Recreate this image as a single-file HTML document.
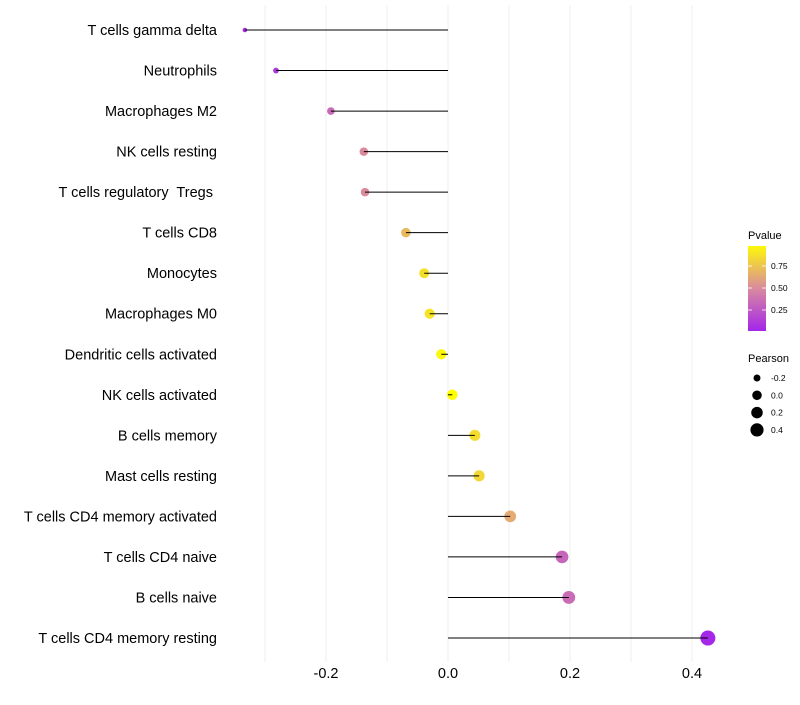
<!DOCTYPE html>
<html><head><meta charset="utf-8"><style>
body{margin:0;background:#fff;font-family:"Liberation Sans",sans-serif}
svg text{font-family:"Liberation Sans",sans-serif}
</style></head><body>
<svg id="chart" width="800" height="700" xmlns="http://www.w3.org/2000/svg">
<g id="grid"></g>
<g id="ylabels"></g>
<g id="marks"></g>
<g id="xlabels"></g>
<g id="legend"></g>
</svg>
<script>
const categories=["T cells gamma delta","Neutrophils","Macrophages M2","NK cells resting","T cells regulatory  Tregs ","T cells CD8","Monocytes","Macrophages M0","Dendritic cells activated","NK cells activated","B cells memory","Mast cells resting","T cells CD4 memory activated","T cells CD4 naive","B cells naive","T cells CD4 memory resting"];
const pearson=[-0.333,-0.282,-0.192,-0.138,-0.136,-0.069,-0.039,-0.030,-0.011,0.007,0.044,0.051,0.102,0.187,0.198,0.426];
const pvalue=[0.05,0.12,0.35,0.5,0.5,0.7,0.86,0.88,0.97,1.0,0.85,0.83,0.64,0.33,0.36,0.04];
const xTicks=[-0.2,0,0.2,0.4];
const xTickLabels=["-0.2","0.0","0.2","0.4"];
const pTicks=[0.25,0.5,0.75];
const sizeLegend=[-0.2,0,0.2,0.4];

const NS="http://www.w3.org/2000/svg";
const X=v=>448+v*610;
const Y=i=>30+i*(608/15);
const R=v=>Math.sqrt(Math.max(1,5+(v+0.333)*68));
function lerp(a,b,t){return a.map((x,i)=>Math.round(x+(b[i]-x)*t));}
function color(p){const c0=[160,32,240],c1=[217,138,158],c2=[255,255,0];
 const c=p<0.5?lerp(c0,c1,p/0.5):lerp(c1,c2,(p-0.5)/0.5);return `rgb(${c})`;}
function el(tag,attrs,parent){const e=document.createElementNS(NS,tag);for(const k in attrs)e.setAttribute(k,attrs[k]);parent.appendChild(e);return e;}
const grid=document.getElementById('grid');
for(let v=-0.3;v<=0.45;v+=0.1){const g=el('line',{x1:X(v),x2:X(v),y1:5,y2:662,stroke:'#efefef','stroke-width':1},grid);

}
const yl=document.getElementById('ylabels'),mk=document.getElementById('marks');
categories.forEach((c,i)=>{
 const t=el('text',{x:217,y:Y(i)+5,'text-anchor':'end','font-size':14.5,fill:'#000','xml:space':'preserve'},yl);
 t.setAttribute('style','white-space:pre');
 t.textContent=c;
 
 
 const pt=el('circle',{cx:X(pearson[i]),cy:Y(i),r:R(pearson[i]),fill:color(pvalue[i])},mk);
 
 
 const ln=el('line',{x1:X(0),x2:X(pearson[i]),y1:Y(i),y2:Y(i),stroke:'#000','stroke-width':1},mk);
 
 
});
const xl=document.getElementById('xlabels');
xTicks.forEach((v,i)=>{const t=el('text',{x:X(v),y:678,'text-anchor':'middle','font-size':14.5,fill:'#000'},xl);t.textContent=xTickLabels[i];

});
const lg=document.getElementById('legend');
const defs=el('defs',{},lg);
const gr=el('linearGradient',{id:'pg',x1:0,y1:1,x2:0,y2:0},defs);
[0,0.25,0.5,0.75,1].forEach(s=>el('stop',{offset:s,'stop-color':color(0.03+s*0.94)},gr));
let t=el('text',{x:748,y:239,'font-size':11,fill:'#000'},lg);t.textContent='Pvalue';


const bar=el('rect',{x:748,y:246,width:18,height:85,fill:'url(#pg)'},lg);


pTicks.forEach(p=>{const y=332-p*88;
 el('line',{x1:748,x2:752,y1:y,y2:y,stroke:'#fff','stroke-width':0.8},lg);
 el('line',{x1:762,x2:766,y1:y,y2:y,stroke:'#fff','stroke-width':0.8},lg);
 const tt=el('text',{x:771,y:y+3,'font-size':8.5,fill:'#000'},lg);tt.textContent=p.toFixed(2);
 
 });
t=el('text',{x:748,y:362,'font-size':11,fill:'#000'},lg);t.textContent='Pearson';


sizeLegend.forEach((v,i)=>{const y=378+i*17.3;
 const c=el('circle',{cx:757,cy:y,r:R(v)*0.85+0.3,fill:'#000'},lg);
 
 
 const tt=el('text',{x:771,y:y+3,'font-size':8.5,fill:'#000'},lg);tt.textContent=v.toFixed(1);
 
 });
</script>
</body></html>
